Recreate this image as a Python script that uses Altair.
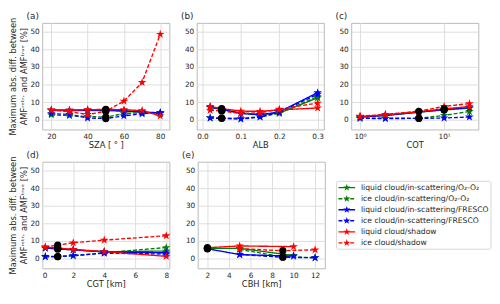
import altair as alt
import pandas as pd

# ---------------- series definitions ----------------
SERIES = [
    "liquid cloud/in-scattering/O₂-O₂",
    "ice cloud/in-scattering/O₂-O₂",
    "liquid cloud/in-scattering/FRESCO",
    "ice cloud/in-scattering/FRESCO",
    "liquid cloud/shadow",
    "ice cloud/shadow",
]
CLOUD = ["liquid", "ice", "liquid", "ice", "liquid", "ice"]
COLORS = ["#008000", "#008000", "#0000ff", "#0000ff", "#ff0000", "#ff0000"]
DASHES = [[1, 0], [4, 2], [1, 0], [4, 2], [1, 0], [4, 2]]

# ---------------- (a) SZA ----------------
sza_x = [20, 30, 40, 50, 60, 70, 80]
sza_liq_o2 = [5.2, 5.2, 5.3, 5.3, 4.8, 4.3, 3.6]
sza_ice_o2 = [2.8, 2.3, 1.9, 1.5, 3.5, 4.0, 3.8]
sza_liq_fresco = [5.4, 5.4, 5.5, 5.6, 5.0, 4.5, 3.9]
sza_ice_fresco = [3.5, 3.0, 1.0, 0.7, 2.2, 3.4, 4.0]
sza_liq_shadow = [5.6, 5.5, 5.7, 5.9, 5.7, 5.2, 2.2]
sza_ice_shadow = [5.5, 4.6, 3.0, 4.8, 10.6, 21.2, 48.5]
sza_ref_liq, sza_ref_ice = 50, 50

# ---------------- (b) ALB ----------------
alb_x = [0.02, 0.05, 0.1, 0.15, 0.2, 0.3]
alb_liq_o2 = [7.0, 5.8, 3.8, 3.0, 3.8, 12.5]
alb_ice_o2 = [1.2, 1.0, 0.8, 1.8, 3.6, 13.2]
alb_liq_fresco = [7.2, 6.0, 3.6, 2.8, 4.5, 15.4]
alb_ice_fresco = [1.0, 0.8, 0.4, 1.5, 4.2, 14.5]
alb_liq_shadow = [7.6, 6.3, 4.9, 4.8, 5.6, 6.7]
alb_ice_shadow = [5.4, 5.0, 3.5, 4.0, 6.0, 9.5]
alb_ref_liq, alb_ref_ice = 0.05, 0.05

# ---------------- (c) COT ----------------
cot_x = [1, 2, 5, 10, 20]
cot_liq_o2 = [1.5, 2.4, 4.3, 5.6, 6.6]
cot_ice_o2 = [1.0, 0.9, 0.8, 2.5, 4.7]
cot_liq_fresco = [1.6, 2.5, 4.4, 5.8, 6.9]
cot_ice_fresco = [0.8, 0.7, 0.8, 1.0, 1.6]
cot_liq_shadow = [1.9, 2.8, 4.6, 6.2, 7.5]
cot_ice_shadow = [2.0, 3.1, 4.8, 7.6, 9.2]
cot_ref_liq, cot_ref_ice = 10, 5

# ---------------- (d) CGT ----------------
cgt_x = [0.2, 1, 2, 4, 8]
cgt_liq_o2 = [6.0, 5.6, 5.0, 3.9, 4.3]
cgt_ice_o2 = [1.0, 1.2, 1.6, 3.3, 6.3]
cgt_liq_fresco = [6.0, 5.5, 5.0, 3.8, 3.3]
cgt_ice_fresco = [1.2, 1.2, 1.7, 3.1, 2.6]
cgt_liq_shadow = [6.5, 6.0, 5.2, 4.0, 1.3]
cgt_ice_shadow = [6.6, 7.7, 9.0, 10.5, 13.0]
cgt_ref_liq, cgt_ref_ice = 1, 1

# ---------------- (e) CBH ----------------
cbh_x_liq = [2, 5, 10]
cbh_x_ice = [5, 9, 12]
cbh_liq_o2 = [5.8, 5.8, 1.8]
cbh_ice_o2 = [5.2, 1.0, 0.6]
cbh_liq_fresco = [5.6, 2.3, 1.4]
cbh_ice_fresco = [2.3, 0.8, 0.5]
cbh_liq_shadow = [6.2, 7.2, 6.8]
cbh_ice_shadow = [5.6, 4.5, 5.0]
cbh_ref_liq, cbh_ref_ice = 2, 9

Y_TITLE = ["Maximum abs. diff. between", "AMFʳᵉᵗʳ· and AMFᵗʳᵘᵉ [%]"]
Y_DOMAIN = [-5.5, 55]
Y_TICKS = [0, 10, 20, 30, 40, 50]

W, H = 130, 109
TXT = "#262626"
STAR = ("M0,-1L0.2245,-0.309L0.9511,-0.309L0.3633,0.118L0.5878,0.809L0,0.382"
        "L-0.5878,0.809L-0.3633,0.118L-0.9511,-0.309L-0.2245,-0.309Z")


def build(x_liq, x_ice, vals, ref_liq, ref_ice):
    rows = []
    for k, (s, v) in enumerate(zip(SERIES, vals)):
        xs = x_liq if CLOUD[k] == "liquid" else x_ice
        ref = ref_liq if CLOUD[k] == "liquid" else ref_ice
        for xv, yv in zip(xs, v):
            rows.append({"x": float(xv), "y": float(yv), "series": s, "k": k, "ref": 1 if xv == ref else 0})
    return pd.DataFrame(rows)


color_enc = alt.Color("series:N", scale=alt.Scale(domain=SERIES, range=COLORS), legend=None)
dash_enc = alt.StrokeDash("series:N", scale=alt.Scale(domain=SERIES, range=DASHES), legend=None)


def panel(df, label, xtitle, xscale, xaxis, ytitle=None):
    if ytitle is not None:
        yaxis = alt.Axis(values=Y_TICKS, grid=True, title=ytitle, titlePadding=2)
    else:
        yaxis = alt.Axis(values=Y_TICKS, grid=True, title="")
    x = alt.X("x:Q", scale=xscale, axis=xaxis, title=xtitle)
    y = alt.Y("y:Q", scale=alt.Scale(domain=Y_DOMAIN, nice=False, zero=False), axis=yaxis)
    base = alt.Chart(df)
    lines = base.mark_line(strokeWidth=1.4).encode(x=x, y=y, color=color_enc, strokeDash=dash_enc)
    stars = base.transform_filter("datum.ref == 0").mark_point(
        shape=STAR, filled=True, size=85, opacity=1).encode(x=x, y=y, color=color_enc)
    refs = base.transform_filter("datum.ref == 1").mark_point(
        shape="circle", filled=True, size=55, opacity=1, color="black").encode(x=x, y=y)
    lab = alt.Chart(pd.DataFrame({"label": [label]})).mark_text(
        align="left", baseline="bottom", fontSize=9, color=TXT, font="DejaVu Sans").encode(
        x=alt.value(-16), y=alt.value(-2), text="label:N")
    return alt.layer(lines, stars, refs, lab)


df_a = build(sza_x, sza_x, [sza_liq_o2, sza_ice_o2, sza_liq_fresco, sza_ice_fresco, sza_liq_shadow, sza_ice_shadow],
             sza_ref_liq, sza_ref_ice)
df_b = build(alb_x, alb_x, [alb_liq_o2, alb_ice_o2, alb_liq_fresco, alb_ice_fresco, alb_liq_shadow, alb_ice_shadow],
             alb_ref_liq, alb_ref_ice)
df_c = build(cot_x, cot_x, [cot_liq_o2, cot_ice_o2, cot_liq_fresco, cot_ice_fresco, cot_liq_shadow, cot_ice_shadow],
             cot_ref_liq, cot_ref_ice)
df_d = build(cgt_x, cgt_x, [cgt_liq_o2, cgt_ice_o2, cgt_liq_fresco, cgt_ice_fresco, cgt_liq_shadow, cgt_ice_shadow],
             cgt_ref_liq, cgt_ref_ice)
df_e = build(cbh_x_liq, cbh_x_ice,
             [cbh_liq_o2, cbh_ice_o2, cbh_liq_fresco, cbh_ice_fresco, cbh_liq_shadow, cbh_ice_shadow],
             cbh_ref_liq, cbh_ref_ice)

pa = panel(df_a, "(a)", "SZA [ ° ]", alt.Scale(domain=[15, 85], nice=False, zero=False),
           alt.Axis(values=[20, 40, 60, 80]), ytitle=Y_TITLE).properties(width=W, height=H)
pb = panel(df_b, "(b)", "ALB", alt.Scale(domain=[-0.015, 0.316], nice=False, zero=False),
           alt.Axis(values=[0, 0.1, 0.2, 0.3], format=".1f")).properties(width=W, height=H)
pc = panel(df_c, "(c)", "COT", alt.Scale(type="log", domain=[0.785, 25.5], nice=False),
           alt.Axis(values=[1, 10], labelExpr="datum.value == 1 ? '10⁰' : '10¹'")).properties(width=W, height=H)
pd_ = panel(df_d, "(d)", "CGT [km]", alt.Scale(domain=[0, 8.2], nice=False, zero=False),
            alt.Axis(values=[0, 2, 4, 6, 8]), ytitle=Y_TITLE).properties(width=W, height=H)
pe_core = panel(df_e, "(e)", "CBH [km]", alt.Scale(domain=[1.1, 12.9], nice=False, zero=False),
                alt.Axis(values=[2, 4, 6, 8, 10, 12]))

# ---------------- legend (drawn to the right of panel e) ----------------
LX = W + 26  # left edge of third column, relative to panel (e)
leg_df = pd.DataFrame({"series": SERIES, "i": list(range(len(SERIES)))})
leg_y = alt.Y("i:Q", scale=alt.Scale(domain=[0, 5], range=[26.5, 83]), axis=None)
box = alt.Chart(pd.DataFrame({"b": [0]})).mark_rect(
    fill="white", stroke="#cccccc", strokeWidth=0.8, cornerRadius=2).encode(
    x=alt.value(LX - 14), x2=alt.value(LX + 144), y=alt.value(20), y2=alt.value(89.5))
leg_base = alt.Chart(leg_df)
leg_lines = leg_base.mark_rule(strokeWidth=1.4).encode(
    x=alt.value(LX - 12), x2=alt.value(LX + 5), y=leg_y, color=color_enc, strokeDash=dash_enc)
leg_stars = leg_base.mark_point(shape=STAR, filled=True, size=60, opacity=1).encode(
    x=alt.value(LX - 3.5), y=leg_y, color=color_enc)
leg_text = leg_base.mark_text(align="left", baseline="middle", fontSize=7.8, color=TXT,
                              font="DejaVu Sans").encode(x=alt.value(LX + 11), y=leg_y, text="series:N")
legend = alt.layer(leg_lines, leg_stars, leg_text)

pe = alt.layer(pe_core, box, legend).resolve_scale(y="independent").properties(width=W, height=H)

row1 = alt.hconcat(pa, pb, pc, spacing=10)
row2 = alt.hconcat(pd_, pe, spacing=10)

chart = alt.vconcat(row1, row2, spacing=0).properties(padding=0, background="white").configure_view(
    stroke="#b8b8b8", strokeWidth=1).configure_axis(
    labelFont="DejaVu Sans", labelFontSize=7.5, labelColor=TXT, titleFont="DejaVu Sans",
    titleFontSize=8.5, titleFontWeight="normal", titleColor=TXT, gridColor="#dddddd", gridWidth=1,
    domain=False, ticks=False, labelPadding=3, titlePadding=1)

chart.save("out.html", embed_options={"renderer": "svg", "actions": False})
